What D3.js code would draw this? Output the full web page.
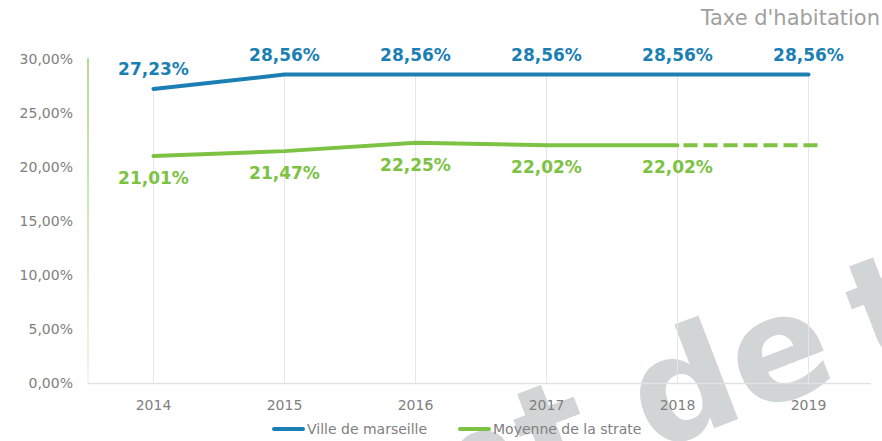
<!DOCTYPE html>
<html>
<head>
<meta charset="utf-8">
<script src="https://cdn.jsdelivr.net/npm/d3@7"></script>
<style>
  body { margin: 0; background: #fff; }
  svg { display: block; font-family: "DejaVu Sans", Verdana, sans-serif; }
</style>
</head>
<body>
<svg width="882" height="441"></svg>
<script>
// chart data
const years = ['2014', '2015', '2016', '2017', '2018', '2019']
const villeValues = [27.23, 28.56, 28.56, 28.56, 28.56, 28.56]
const strateValues = [21.01, 21.47, 22.25, 22.02, 22.02]
const strateProjected = [{year: '2018', value: 22.02}, {year: '2019', value: 22.02}]
const yTicks = [0, 5, 10, 15, 20, 25, 30]

const blue = '#1b7fb4',
    green = '#7dc243',
    grey = '#808080'

const svg = d3.select('svg')

const x = d3.scalePoint()
    .domain(years)
    .range([88, 874])
    .padding(0.5)

const y = d3.scaleLinear()
    .domain([0, 30])
    .range([383, 59])

const fmt = v => v.toFixed(2).replace('.', ',') + '%'

// watermark, behind everything
const wm = svg.append('g')
    .attr('transform', 'translate(652,452) rotate(-21)')
    .attr('fill', '#d1d5d6')
    .attr('font-weight', 'bold')
    .attr('font-size', 146)
wm.append('text').attr('x', -50).attr('text-anchor', 'end').text('Document')
wm.append('text').attr('x', 0).text('de')
wm.append('text').attr('x', 236).text('travail')

// gradient for the left axis line
const grad = svg.append('defs').append('linearGradient')
    .attr('id', 'axisGrad')
    .attr('x1', 0).attr('y1', 0).attr('x2', 0).attr('y2', 1)
grad.append('stop').attr('offset', '0%').attr('stop-color', '#b6da92')
grad.append('stop').attr('offset', '100%').attr('stop-color', '#f1f8ea')

// drop lines from the top point of each year
svg.append('g')
    .selectAll('line')
    .data(years)
    .enter().append('line')
    .attr('x1', d => x(d)).attr('x2', d => x(d))
    .attr('y1', (d, i) => y(Math.max(villeValues[i], strateValues[i] || 0)))
    .attr('y2', y(0))
    .attr('stroke', '#e6e6e6')
    .attr('stroke-width', 1)

// bottom axis line
svg.append('line')
    .attr('x1', 88).attr('x2', 871)
    .attr('y1', y(0) + 0.5).attr('y2', y(0) + 0.5)
    .attr('stroke', '#e2e2e2')
    .attr('stroke-width', 1.5)

// left axis line
svg.append('rect')
    .attr('x', 87).attr('y', y(30) - 1)
    .attr('width', 2).attr('height', y(0) - y(30) + 1)
    .attr('fill', 'url(#axisGrad)')

// y tick labels
svg.append('g')
    .selectAll('text')
    .data(yTicks)
    .enter().append('text')
    .attr('x', 73)
    .attr('y', d => y(d) + 5)
    .attr('text-anchor', 'end')
    .attr('font-size', 14)
    .attr('fill', grey)
    .text(d => fmt(d))

// x tick labels
svg.append('g')
    .selectAll('text')
    .data(years)
    .enter().append('text')
    .attr('x', d => x(d))
    .attr('y', 410)
    .attr('text-anchor', 'middle')
    .attr('font-size', 14)
    .attr('fill', grey)
    .text(d => d)

const line = d3.line()
    .x(d => x(d.year))
    .y(d => y(d.value))

const villeData = years.map((d, i) => ({year: d, value: villeValues[i]}))
const strateData = strateValues.map((v, i) => ({year: years[i], value: v}))

svg.append('path')
    .datum(strateData)
    .attr('d', line)
    .attr('fill', 'none')
    .attr('stroke', green)
    .attr('stroke-width', 4)
    .attr('stroke-linecap', 'round')

// projected part, dashed
const step = x.step()
svg.append('line')
    .attr('x1', x(strateProjected[0].year))
    .attr('y1', y(strateProjected[0].value))
    .attr('x2', x(strateProjected[1].year) + step * 0.1)
    .attr('y2', y(strateProjected[1].value))
    .attr('stroke', green)
    .attr('stroke-width', 4)
    .attr('stroke-dasharray', '14,6')
    .attr('stroke-dashoffset', 14)

svg.append('path')
    .datum(villeData)
    .attr('d', line)
    .attr('fill', 'none')
    .attr('stroke', blue)
    .attr('stroke-width', 4)
    .attr('stroke-linecap', 'round')

// data labels
svg.append('g')
    .selectAll('text')
    .data(villeData)
    .enter().append('text')
    .attr('x', d => x(d.year))
    .attr('y', d => y(d.value) - 14)
    .attr('text-anchor', 'middle')
    .attr('font-size', 17)
    .attr('font-weight', 'bold')
    .attr('fill', blue)
    .text(d => fmt(d.value))

svg.append('g')
    .selectAll('text')
    .data(strateData)
    .enter().append('text')
    .attr('x', d => x(d.year))
    .attr('y', d => y(d.value) + 28)
    .attr('text-anchor', 'middle')
    .attr('font-size', 17)
    .attr('font-weight', 'bold')
    .attr('fill', green)
    .text(d => fmt(d.value))

// title
svg.append('text')
    .attr('x', 880)
    .attr('y', 25)
    .attr('text-anchor', 'end')
    .attr('font-size', 21)
    .attr('fill', '#a0a0a0')
    .text("Taxe d'habitation")

// legend
const legend = [
    {name: 'Ville de marseille', color: blue, x: 272},
    {name: 'Moyenne de la strate', color: green, x: 458}
]
const lg = svg.append('g')
    .selectAll('g')
    .data(legend)
    .enter().append('g')
    .attr('transform', d => 'translate(' + d.x + ',429)')
lg.append('line')
    .attr('x1', 2).attr('x2', 31)
    .attr('y1', 0).attr('y2', 0)
    .attr('stroke', d => d.color)
    .attr('stroke-width', 4)
    .attr('stroke-linecap', 'round')
lg.append('text')
    .attr('x', 35)
    .attr('y', 5)
    .attr('font-size', 14)
    .attr('fill', grey)
    .text(d => d.name)
</script>
</body>
</html>
